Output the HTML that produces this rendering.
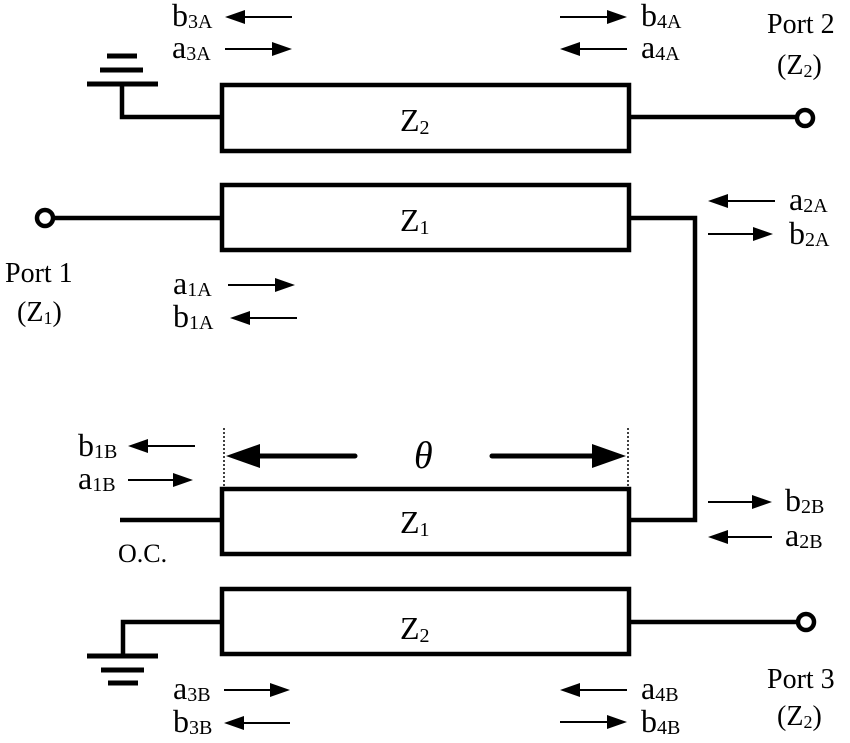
<!DOCTYPE html>
<html><head><meta charset="utf-8"><style>
html,body{margin:0;padding:0;background:#fff;}
svg{display:block;}
text{font-family:"Liberation Serif",serif;fill:#000;}
.l{font-size:32px;}
.s{font-size:20px;}
</style></head><body>
<svg width="850" height="743" viewBox="0 0 850 743" xmlns="http://www.w3.org/2000/svg">
<g fill="none" stroke="#000" stroke-width="4.5">
<rect x="222" y="85" width="407" height="66"/>
<rect x="222" y="185" width="407" height="65"/>
<rect x="222" y="489" width="407" height="65"/>
<rect x="222" y="589" width="407" height="65"/>
<polyline points="122,84 122,117 222,117"/>
<line x1="629" y1="117" x2="797" y2="117"/>
<circle cx="805" cy="118" r="8"/>
<line x1="53" y1="218" x2="222" y2="218"/>
<circle cx="45" cy="218" r="8"/>
<polyline points="629,218 695,218 695,520 629,520"/>
<line x1="120" y1="520" x2="222" y2="520"/>
<polyline points="222,622 123,622 123,656"/>
<line x1="629" y1="622" x2="798" y2="622"/>
<circle cx="806" cy="622" r="8"/>
</g>
<g stroke="#000" stroke-width="5">
<line x1="107" y1="56" x2="137" y2="56"/>
<line x1="100" y1="70" x2="143" y2="70"/>
<line x1="87" y1="84" x2="158" y2="84"/>
<line x1="87" y1="656" x2="158" y2="656"/>
<line x1="101" y1="670" x2="144" y2="670"/>
<line x1="108" y1="683" x2="138" y2="683"/>
</g>
<g stroke="#000" stroke-width="1.5" stroke-dasharray="2,2">
<line x1="224" y1="428" x2="224" y2="488"/>
<line x1="628" y1="428" x2="628" y2="488"/>
</g>
<g stroke="#000" stroke-width="5" stroke-linecap="round">
<line x1="250" y1="456" x2="355" y2="456"/>
<line x1="492" y1="456" x2="600" y2="456"/>
</g>
<polygon points="226,456 260,444 260,468"/>
<polygon points="626,456 592,444 592,468"/>
<g stroke="#000" stroke-width="2">
<line x1="240" y1="17" x2="292" y2="17"/><line x1="225" y1="49" x2="277" y2="49"/>
<line x1="560" y1="17" x2="612" y2="17"/><line x1="575" y1="49" x2="627" y2="49"/>
<line x1="723" y1="201" x2="775" y2="201"/><line x1="708" y1="234" x2="758" y2="234"/>
<line x1="228" y1="285" x2="280" y2="285"/><line x1="245" y1="318" x2="297" y2="318"/>
<line x1="143" y1="446" x2="195" y2="446"/><line x1="128" y1="480" x2="178" y2="480"/>
<line x1="708" y1="502" x2="757" y2="502"/><line x1="723" y1="537" x2="772" y2="537"/>
<line x1="224" y1="690" x2="275" y2="690"/><line x1="239" y1="723" x2="290" y2="723"/>
<line x1="575" y1="690" x2="627" y2="690"/><line x1="560" y1="722" x2="612" y2="722"/>
</g>
<g>
<polygon points="225,17 245,10 245,24"/><polygon points="292,49 272,42 272,56"/>
<polygon points="627,17 607,10 607,24"/><polygon points="560,49 580,42 580,56"/>
<polygon points="708,201 728,194 728,208"/><polygon points="773,234 753,227 753,241"/>
<polygon points="295,285 275,278 275,292"/><polygon points="230,318 250,311 250,325"/>
<polygon points="128,446 148,439 148,453"/><polygon points="193,480 173,473 173,487"/>
<polygon points="772,502 752,495 752,509"/><polygon points="708,537 728,530 728,544"/>
<polygon points="290,690 270,683 270,697"/><polygon points="224,723 244,716 244,730"/>
<polygon points="560,690 580,683 580,697"/><polygon points="627,722 607,715 607,729"/>
</g>
<text class="l" x="172" y="26">b<tspan class="s" dy="2">3A</tspan></text>
<text class="l" x="172" y="58">a<tspan class="s" dy="2">3A</tspan></text>
<text class="l" x="641" y="26">b<tspan class="s" dy="2">4A</tspan></text>
<text class="l" x="641" y="58">a<tspan class="s" dy="2">4A</tspan></text>
<text class="l" x="789" y="210">a<tspan class="s" dy="2">2A</tspan></text>
<text class="l" x="789" y="244">b<tspan class="s" dy="2">2A</tspan></text>
<text class="l" x="173" y="294">a<tspan class="s" dy="2">1A</tspan></text>
<text class="l" x="173" y="327">b<tspan class="s" dy="2">1A</tspan></text>
<text class="l" x="78" y="456">b<tspan class="s" dy="2">1B</tspan></text>
<text class="l" x="78" y="489">a<tspan class="s" dy="2">1B</tspan></text>
<text class="l" x="785" y="511">b<tspan class="s" dy="2">2B</tspan></text>
<text class="l" x="785" y="546">a<tspan class="s" dy="2">2B</tspan></text>
<text class="l" x="173" y="699">a<tspan class="s" dy="2">3B</tspan></text>
<text class="l" x="173" y="732">b<tspan class="s" dy="2">3B</tspan></text>
<text class="l" x="641" y="699">a<tspan class="s" dy="2">4B</tspan></text>
<text class="l" x="641" y="732">b<tspan class="s" dy="2">4B</tspan></text>
<text x="118" y="562" style="font-size:26px">O.C.</text>
<text class="l" x="400" y="131">Z<tspan class="s" dy="3">2</tspan></text>
<text class="l" x="400" y="231">Z<tspan class="s" dy="3">1</tspan></text>
<text class="l" x="400" y="533">Z<tspan class="s" dy="3">1</tspan></text>
<text class="l" x="400" y="639">Z<tspan class="s" dy="3">2</tspan></text>
<text x="414" y="468" style="font-size:38px;font-style:italic">θ</text>
<text x="767" y="33" style="font-size:28px">Port 2</text>
<text x="777" y="74" style="font-size:28px">(Z<tspan style="font-size:18px" dy="3">2</tspan><tspan dy="-3">)</tspan></text>
<text x="5" y="282" style="font-size:28px">Port 1</text>
<text x="17" y="321" style="font-size:28px">(Z<tspan style="font-size:18px" dy="3">1</tspan><tspan dy="-3">)</tspan></text>
<text x="767" y="688" style="font-size:28px">Port 3</text>
<text x="777" y="725" style="font-size:28px">(Z<tspan style="font-size:18px" dy="3">2</tspan><tspan dy="-3">)</tspan></text>
</svg>
</body></html>
